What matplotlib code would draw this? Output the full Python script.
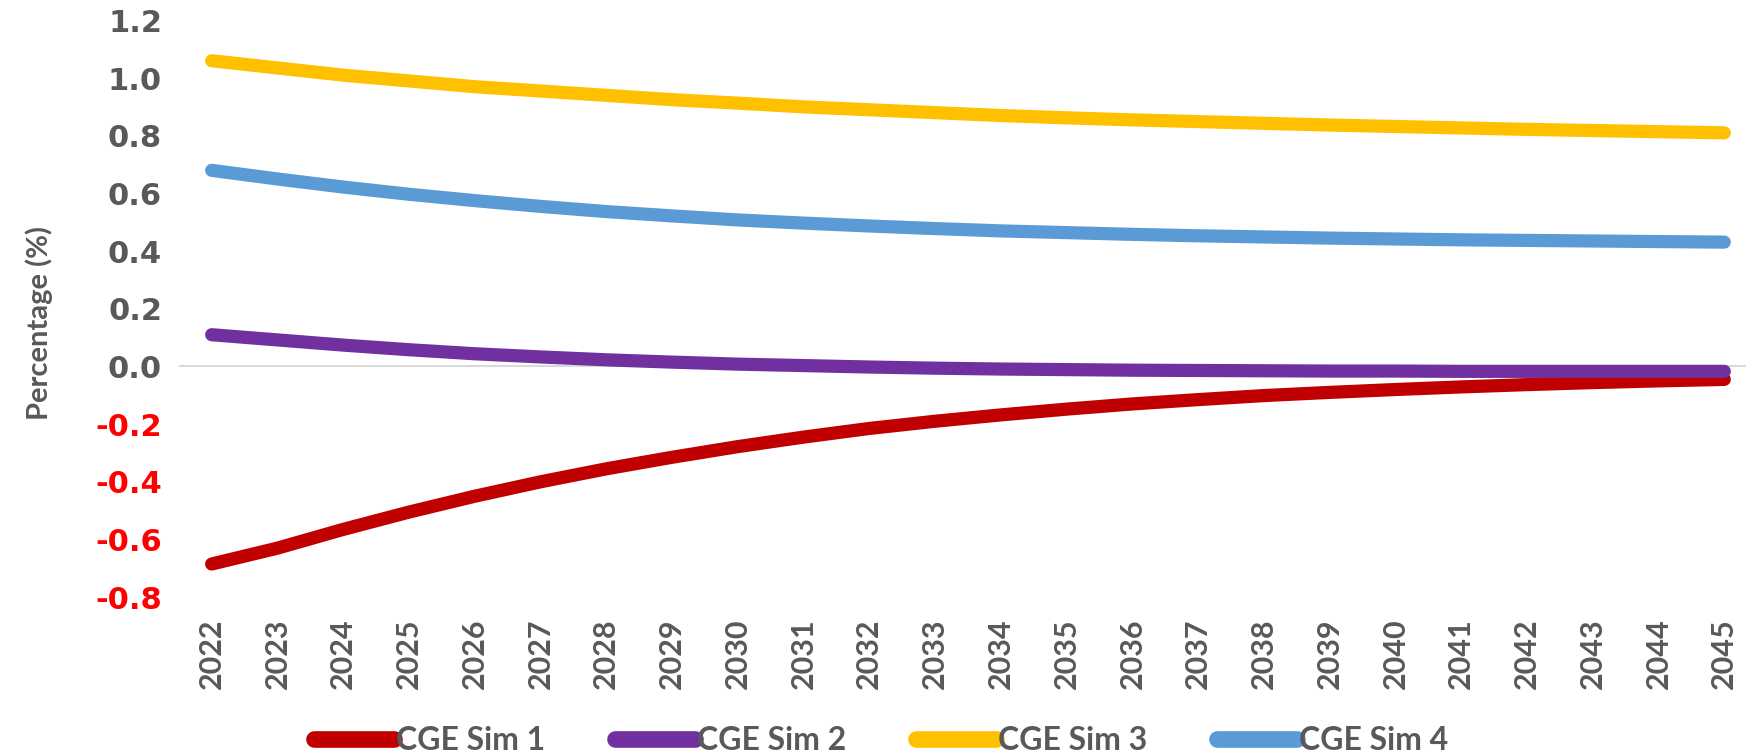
import matplotlib
matplotlib.use("Agg")
import matplotlib.pyplot as plt
from matplotlib.ticker import FixedLocator

years = [str(y) for y in range(2022, 2046)]
sim1 = [-0.685, -0.63, -0.565, -0.505, -0.45, -0.40, -0.355, -0.315, -0.278, -0.245,
        -0.215, -0.19, -0.168, -0.148, -0.13, -0.115, -0.101, -0.09, -0.08, -0.071,
        -0.063, -0.056, -0.05, -0.045]
sim2 = [0.11, 0.092, 0.074, 0.058, 0.044, 0.033, 0.023, 0.015, 0.008, 0.003,
        -0.002, -0.006, -0.009, -0.011, -0.013, -0.014, -0.015, -0.016, -0.016, -0.017,
        -0.017, -0.017, -0.017, -0.017]
sim3 = [1.06, 1.035, 1.01, 0.99, 0.97, 0.955, 0.94, 0.925, 0.913, 0.90,
        0.89, 0.88, 0.87, 0.862, 0.855, 0.849, 0.843, 0.837, 0.832, 0.827,
        0.822, 0.818, 0.814, 0.81]
sim4 = [0.68, 0.65, 0.622, 0.597, 0.575, 0.555, 0.537, 0.522, 0.508, 0.497,
        0.487, 0.478, 0.47, 0.464, 0.458, 0.453, 0.449, 0.445, 0.442, 0.439,
        0.437, 0.435, 0.433, 0.431]
series_names = ["CGE Sim 1", "CGE Sim 2", "CGE Sim 3", "CGE Sim 4"]
series_colors = ["#C00000", "#7030A0", "#FFC000", "#5B9BD5"]
yticks = [-0.8, -0.6, -0.4, -0.2, 0.0, 0.2, 0.4, 0.6, 0.8, 1.0, 1.2]

grey = "#595959"
fig = plt.figure(figsize=(17.46, 7.54), dpi=100)
ax = fig.add_axes([0.1024, 0.208, 0.904, 0.765])

x = list(range(len(years)))
lines = []
for vals, name, col in zip([sim1, sim2, sim3, sim4], series_names, series_colors):
    ln, = ax.plot(x, vals, color=col, lw=9.5, solid_capstyle="round",
                  solid_joinstyle="round", label=name, zorder=3)
    lines.append(ln)

ax.axhline(0, color="#D9D9D9", lw=1.5, zorder=1)
ax.set_xlim(-0.5, len(years) - 0.5)
ax.set_ylim(-0.8, 1.2)
for s in ax.spines.values():
    s.set_visible(False)

ax.yaxis.set_major_locator(FixedLocator(yticks))
ax.set_yticklabels([f"{v:.1f}" for v in yticks], fontsize=22, fontweight="bold",
                   family="DejaVu Sans")
for lbl, v in zip(ax.get_yticklabels(), yticks):
    lbl.set_color("#FF0000" if v < 0 else grey)
ax.tick_params(axis="y", length=0, pad=12)

ax.set_xticks(x)
ax.set_xticklabels(years, rotation=90, fontsize=22, fontweight="bold",
                   color=grey, family="Lato")
ax.tick_params(axis="x", length=0, pad=15)

ax.set_ylabel("Percentage (%)", fontsize=21, color=grey, family="Lato",
              fontweight="bold")
ax.yaxis.set_label_coords(-0.08, 0.475)

leg = fig.legend(handles=lines, loc="center", bbox_to_anchor=(0.5046, 0.018),
                 ncol=4, frameon=False, handlelength=2.5, handletextpad=0.05,
                 columnspacing=2.2, prop={"family": "Lato", "weight": "bold", "size": 23})
for t in leg.get_texts():
    t.set_color(grey)
for h in leg.legend_handles:
    h.set_linewidth(12)
    h.set_solid_capstyle("round")

fig.savefig("out.png", dpi=100)
